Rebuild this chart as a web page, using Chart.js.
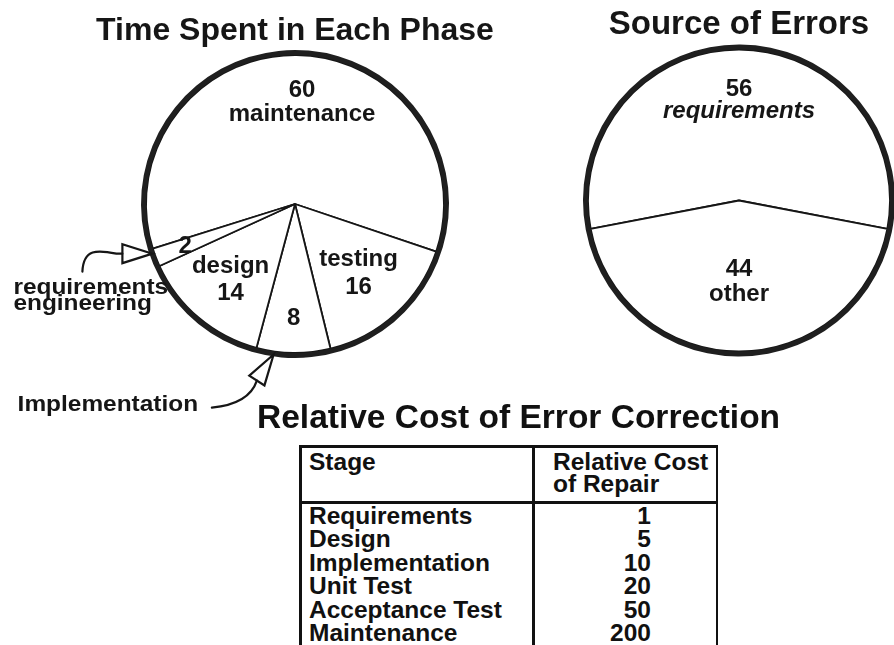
<!DOCTYPE html>
<html>
<head>
<meta charset="utf-8">
<script src="https://cdn.jsdelivr.net/npm/chart.js@4.4.1/dist/chart.umd.min.js"></script>
<style>
html,body{margin:0;padding:0;background:#fff;}
body{width:894px;height:645px;position:relative;overflow:hidden;font-family:"Liberation Sans",Arial,Helvetica,sans-serif;font-weight:bold;color:#111;}
#c1{position:absolute;left:0;top:0;}
#c2{position:absolute;left:582px;top:0;}
#ttl{position:absolute;left:257px;top:400px;font-size:33.5px;line-height:33.5px;white-space:nowrap;}
#tbl{position:absolute;left:299px;top:445px;border-collapse:separate;border-spacing:0;table-layout:fixed;width:419px;}
#tbl th,#tbl td{font-size:24.5px;font-weight:bold;color:#111;text-align:left;vertical-align:top;white-space:nowrap;}
#tbl th{line-height:22px;border-top:3px solid #111;border-bottom:3px solid #111;padding:3px 0 6px 0;white-space:pre;}
#tbl td{line-height:23.4px;padding:0;}
#tbl .c1{border-left:3px solid #111;border-right:3px solid #111;padding-left:7px;}
#tbl .c2{border-right:2px solid #111;}
#tbl th.c2{padding-left:18px;}
#tbl td.c2{text-align:right;padding-right:65px;}
#tbl tr.last td{padding-bottom:12px;}
</style>
</head>
<body>
<canvas id="c1" width="585" height="420"></canvas>
<canvas id="c2" width="312" height="420"></canvas>
<div id="ttl"></div>
<table id="tbl"><thead><tr id="hdr"></tr></thead><tbody id="body"></tbody></table>
<script>
// ---- data ----
const timeTitle = 'Time Spent in Each Phase';
const timeCategories = ['maintenance', 'testing', 'implementation', 'design', 'requirements engineering'];
const timeValues = [60, 16, 8, 14, 2];

const errorTitle = 'Source of Errors';
const errorCategories = ['requirements', 'other'];
const errorValues = [56, 44];

const costTitle = 'Relative Cost of Error Correction';
const costHeaders = ['Stage', 'Relative Cost\nof Repair'];
const costStages = ['Requirements', 'Design', 'Implementation', 'Unit Test', 'Acceptance Test', 'Maintenance'];
const costValues = [1, 5, 10, 20, 50, 200];

const calloutTexts = { implementation: ['Implementation'], 'requirements engineering': ['requirements', 'engineering'] };

// ---- style ----
const INK = '#161616';
const FONT = '"Liberation Sans", Arial, Helvetica, sans-serif';

// label placement per slice (fraction of radius along slice mid-angle)
const timeLabelStyle = [
  {frac: 0.68, mode: 'valueFirst', gap: 24, dx: 6},
  {frac: 0.63, mode: 'nameFirst', gap: 28},
  {frac: 0.77, mode: 'valueOnly'},
  {frac: 0.67, mode: 'nameFirst', gap: 27},
  {frac: 0.79, mode: 'valueOnly'}
];
const errorLabelStyle = [
  {frac: 0.66, mode: 'valueFirst', gap: 22, italicName: true},
  {frac: 0.54, mode: 'valueFirst', gap: 25}
];

const pieLabels = {
  id: 'pieLabels',
  afterDatasetsDraw(chart, args, opts) {
    const meta = chart.getDatasetMeta(1);
    const ds = chart.data.datasets[1];
    const ctx = chart.ctx;
    ctx.save();
    ctx.fillStyle = INK;
    ctx.textAlign = 'center';
    ctx.textBaseline = 'middle';
    opts.styles.forEach((st, i) => {
      const arc = meta.data[i];
      const p = arc.getProps(['x', 'y', 'startAngle', 'endAngle', 'outerRadius'], true);
      const mid = (p.startAngle + p.endAngle) / 2;
      const r = p.outerRadius * st.frac;
      const cx = p.x + Math.cos(mid) * r + (st.dx || 0), cy = p.y + Math.sin(mid) * r;
      const val = {text: String(ds.data[i]), italic: false};
      const name = {text: chart.data.labels[i], italic: !!st.italicName};
      let lines;
      if (st.mode === 'valueFirst') lines = [val, name];
      else if (st.mode === 'nameFirst') lines = [name, val];
      else lines = [val];
      const n = lines.length;
      lines.forEach((ln, k) => {
        ctx.font = (ln.italic ? 'italic ' : '') + 'bold 24px ' + FONT;
        ctx.fillText(ln.text, cx, cy + (k - (n - 1) / 2) * (st.gap || 0));
      });
    });
    ctx.restore();
  }
};

function arrowHead(ctx, tx, ty, dir, len, hw) {
  const bx = tx - Math.cos(dir) * len, by = ty - Math.sin(dir) * len;
  const nx = -Math.sin(dir) * hw, ny = Math.cos(dir) * hw;
  ctx.beginPath();
  ctx.moveTo(tx, ty);
  ctx.lineTo(bx + nx, by + ny);
  ctx.lineTo(bx - nx, by - ny);
  ctx.closePath();
  ctx.fillStyle = '#fff';
  ctx.fill();
  ctx.stroke();
  return {x: bx, y: by};
}
function stretchedText(ctx, text, x, y) {
  ctx.save();
  ctx.translate(x, y);
  ctx.scale(1.11, 1);
  ctx.fillText(text, 0, 0);
  ctx.restore();
}

const callouts = {
  id: 'callouts',
  afterDatasetsDraw(chart) {
    const meta = chart.getDatasetMeta(1);
    const ctx = chart.ctx;
    const tipOf = (idx, at, rOff) => {
      const p = meta.data[idx].getProps(['x', 'y', 'startAngle', 'endAngle', 'outerRadius'], true);
      const a = p.startAngle + (p.endAngle - p.startAngle) * at;
      const R = p.outerRadius + rOff;
      return {x: p.x + Math.cos(a) * R, y: p.y + Math.sin(a) * R};
    };
    ctx.save();
    ctx.strokeStyle = INK;
    ctx.lineWidth = 2.2;
    ctx.lineJoin = 'miter';
    ctx.lineCap = 'round';
    ctx.font = 'bold 22px ' + FONT;
    ctx.textAlign = 'left';
    ctx.textBaseline = 'alphabetic';

    // requirements engineering
    const ri = timeCategories.indexOf('requirements engineering');
    let T = tipOf(ri, 0.75, 2);
    let B = arrowHead(ctx, T.x, T.y, 0, 30, 9.5);
    ctx.beginPath();
    ctx.moveTo(B.x, B.y);
    ctx.lineTo(B.x - 6, B.y);
    ctx.bezierCurveTo(B.x - 25, B.y - 4, B.x - 39, B.y - 5, B.x - 40, B.y + 18);
    ctx.stroke();
    ctx.fillStyle = INK;
    calloutTexts['requirements engineering'].forEach((t, k) => stretchedText(ctx, t, T.x - 139, T.y + 40 + k * 16));

    // implementation
    const ii = timeCategories.indexOf('implementation');
    T = tipOf(ii, 0.76, 3);
    B = arrowHead(ctx, T.x, T.y, -57.3 * Math.PI / 180, 31, 9);
    ctx.beginPath();
    ctx.moveTo(B.x, B.y);
    ctx.bezierCurveTo(B.x - 4, B.y + 12, B.x - 14, B.y + 24, B.x - 45, B.y + 27);
    ctx.stroke();
    ctx.fillStyle = INK;
    stretchedText(ctx, calloutTexts.implementation[0], T.x - 256, T.y + 56.5);
    ctx.restore();
  }
};

function pieConfig(title, titleSize, titlePadTop, labels, values, radius, rotation, padding, labelStyles, extraPlugins) {
  const ringWeight = 5 / (radius - 5);
  return {
    type: 'pie',
    data: {
      labels: labels,
      datasets: [
        {data: [1], backgroundColor: '#1f1f1f', borderWidth: 0, weight: ringWeight, radius: radius, rotation: rotation},
        {data: values, backgroundColor: '#ffffff', borderColor: INK, borderWidth: 1.8, weight: 1, radius: radius, rotation: rotation}
      ]
    },
    options: {
      responsive: false,
      animation: false,
      devicePixelRatio: 1,
      events: [],
      rotation: rotation,
      radius: radius,
      layout: {padding: padding},
      plugins: {
        legend: {display: false},
        tooltip: {enabled: false},
        title: {
          display: true,
          text: title,
          color: INK,
          font: {family: FONT, size: titleSize, weight: 'bold', lineHeight: 1.2},
          padding: {top: titlePadTop, bottom: 0}
        },
        pieLabels: {styles: labelStyles}
      }
    },
    plugins: [pieLabels].concat(extraPlugins)
  };
}

new Chart(document.getElementById('c1'), pieConfig(
  timeTitle, 32, 11.8, timeCategories, timeValues, 154, 252.6,
  {top: 0, bottom: 62.2, left: 5, right: 0}, timeLabelStyle, [callouts]));

new Chart(document.getElementById('c2'), pieConfig(
  errorTitle, 33, 5.2, errorCategories, errorValues, 156, 259.2,
  {top: 0, bottom: 63.8, left: 2, right: 0}, errorLabelStyle, []));

// ---- table ----
document.getElementById('ttl').textContent = costTitle;
const hdr = document.getElementById('hdr');
costHeaders.forEach((h, i) => {
  const th = document.createElement('th');
  th.className = 'c' + (i + 1);
  th.style.width = i === 0 ? '223px' : '163px';
  th.textContent = h;
  hdr.appendChild(th);
});
const body = document.getElementById('body');
costStages.forEach((s, i) => {
  const tr = document.createElement('tr');
  if (i === costStages.length - 1) tr.className = 'last';
  const a = document.createElement('td'); a.className = 'c1'; a.textContent = s;
  const b = document.createElement('td'); b.className = 'c2'; b.textContent = String(costValues[i]);
  tr.appendChild(a); tr.appendChild(b);
  body.appendChild(tr);
});
</script>
</body>
</html>
